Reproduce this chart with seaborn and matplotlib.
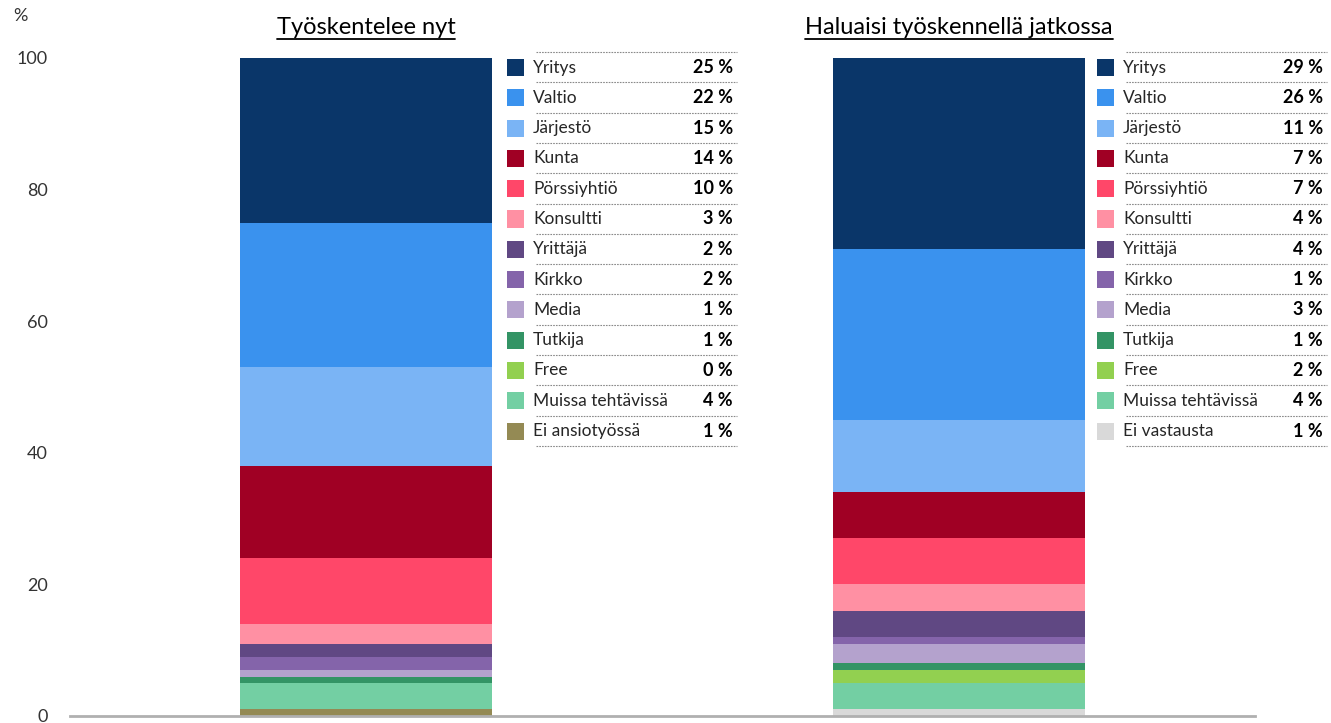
import matplotlib
matplotlib.use("Agg")
import matplotlib.pyplot as plt
import seaborn as sns
import pandas as pd
from matplotlib.patches import Rectangle
from matplotlib.lines import Line2D

# data
otsikot = ["Työskentelee nyt", "Haluaisi työskennellä jatkossa"]
luokat_nyt = ["Yritys", "Valtio", "Järjestö", "Kunta", "Pörssiyhtiö", "Konsultti",
              "Yrittäjä", "Kirkko", "Media", "Tutkija", "Free", "Muissa tehtävissä",
              "Ei ansiotyössä"]
arvot_nyt = [25, 22, 15, 14, 10, 3, 2, 2, 1, 1, 0, 4, 1]
luokat_jatkossa = ["Yritys", "Valtio", "Järjestö", "Kunta", "Pörssiyhtiö", "Konsultti",
                   "Yrittäjä", "Kirkko", "Media", "Tutkija", "Free", "Muissa tehtävissä",
                   "Ei vastausta"]
arvot_jatkossa = [29, 26, 11, 7, 7, 4, 4, 1, 3, 1, 2, 4, 1]
varit = {
    "Yritys": "#0a3669", "Valtio": "#3a92ee", "Järjestö": "#7ab4f5",
    "Kunta": "#a00024", "Pörssiyhtiö": "#ff4769", "Konsultti": "#ff90a3",
    "Yrittäjä": "#604883", "Kirkko": "#8464aa", "Media": "#b4a2cd",
    "Tutkija": "#339465", "Free": "#92d050", "Muissa tehtävissä": "#73cfa3",
    "Ei ansiotyössä": "#948a54", "Ei vastausta": "#d9d9d9",
}

sns.set_style("white")
plt.rcParams["font.family"] = ["Lato", "DejaVu Sans"]

W, H = 1331, 723
fig = plt.figure(figsize=(W / 100, H / 100), dpi=100)
ax = fig.add_axes([70 / W, 1 - 716 / H, (1255 - 70) / W, (716 - 58) / H])

# cumulative sums from bottom up, drawn tallest first so segments overlay
rivit = []
for otsikko, luokat, arvot in [(otsikot[0], luokat_nyt, arvot_nyt),
                               (otsikot[1], luokat_jatkossa, arvot_jatkossa)]:
    kum = 0
    for luokka, arvo in zip(luokat[::-1], arvot[::-1]):
        kum += arvo
        rivit.append({"ryhma": otsikko, "luokka": luokka, "kum": kum})
df = pd.DataFrame(rivit)
hue_order = luokat_nyt + ["Ei vastausta"]

sns.barplot(data=df, x="ryhma", y="kum", hue="luokka", hue_order=hue_order,
            order=otsikot, palette=varit, dodge=False, width=0.425, saturation=1,
            linewidth=0, legend=False, ax=ax, errorbar=None)

ax.set_xlim(-0.5, 1.5)
ax.set_ylim(0, 100)
ax.set_yticks(range(0, 101, 20))
ax.set_xticks([])
ax.set_xlabel("")
ax.set_ylabel("")
sns.despine(ax=ax, left=True)
ax.spines["bottom"].set_color("#b0b0b0")
ax.spines["bottom"].set_linewidth(2)
ax.tick_params(axis="y", length=0, pad=16, labelsize=13, labelcolor="#333333")
fig.text(13 / W, 1 - 16 / H, "%", fontsize=13, color="#333333", va="center", ha="left")


def px(x, y):
    return x / W, 1 - y / H


# titles with underline
fig.canvas.draw()
renderer = fig.canvas.get_renderer()
for xc, teksti in zip([366, 959], otsikot):
    t = fig.text(*px(xc, 27), teksti, fontsize=17, ha="center", va="center", color="black")
    bb = t.get_window_extent(renderer)
    yline = 1 - 39 / H
    fig.add_artist(Line2D([bb.x0 / W, bb.x1 / W], [yline, yline],
                          transform=fig.transFigure, color="black", linewidth=1.3))

# legend tables
rivi = 30.3
for x0, luokat, arvot in [(507, luokat_nyt, arvot_nyt), (1097, luokat_jatkossa, arvot_jatkossa)]:
    for i in range(len(luokat) + 1):
        yl = 1 - (52 + i * rivi) / H
        fig.add_artist(Line2D([(x0 + 29) / W, (x0 + 230) / W], [yl, yl],
                              transform=fig.transFigure, color="#8a8a8a",
                              linewidth=0.8, linestyle=(0, (1.5, 1))))
    for i, (luokka, arvo) in enumerate(zip(luokat, arvot)):
        yc = 67.5 + i * rivi
        fig.add_artist(Rectangle(px(x0, yc + 8.5), 17 / W, 17 / H,
                                 transform=fig.transFigure, color=varit[luokka], linewidth=0))
        fig.text(*px(x0 + 26, yc), luokka, fontsize=12.5, va="center", ha="left", color="#262626")
        fig.text(*px(x0 + 226, yc), f"{arvo} %", fontsize=13, va="center", ha="right",
                 color="black", fontweight="bold")

fig.savefig("out.png", dpi=100)
